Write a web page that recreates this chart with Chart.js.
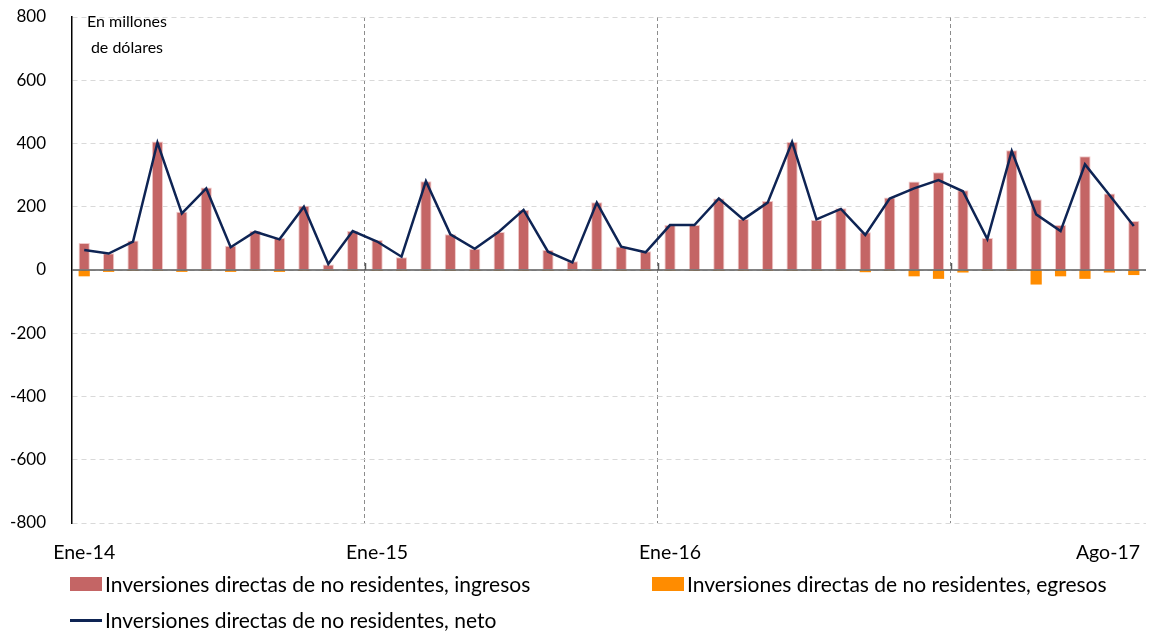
<!DOCTYPE html>
<html>
<head>
<meta charset="utf-8">
<script src="https://cdn.jsdelivr.net/npm/chart.js@4.4.0/dist/chart.umd.min.js"></script>
<style>
  body { margin: 0; background: #fff; }
  #wrap { position: relative; width: 1150px; height: 632px; font-family: Lato, "Liberation Sans", sans-serif; color: #000; }
  #chart { position: absolute; left: 0; top: 0; }
  .note { position: absolute; left: 87px; top: 8px; font-size: 16px; line-height: 26px; text-align: center; }
  .leg { position: absolute; font-size: 21px; white-space: nowrap; line-height: 24px; }
  .leg .box { position: absolute; left: 0; top: 5px; width: 32px; height: 14px; }
  .leg .ln { position: absolute; left: 0; top: 11px; width: 32px; height: 2.5px; }
  .leg span { position: absolute; left: 35px; top: 0; }
</style>
</head>
<body>
<div id="wrap">
  <canvas id="chart" width="1150" height="632"></canvas>
  <div class="note">En millones<br>de dólares</div>
  <div class="leg" style="left:70px; top:572px;"><div class="box" style="background:#C46565"></div><span id="l0"></span></div>
  <div class="leg" style="left:652px; top:572px;"><div class="box" style="background:#FF8C00"></div><span id="l1"></span></div>
  <div class="leg" style="left:70px; top:608px;"><div class="ln" style="background:#0E2454"></div><span id="l2"></span></div>
</div>
<script>
var months = [
  'Ene-14','Feb-14','Mar-14','Abr-14','May-14','Jun-14','Jul-14','Ago-14','Sep-14','Oct-14','Nov-14','Dic-14',
  'Ene-15','Feb-15','Mar-15','Abr-15','May-15','Jun-15','Jul-15','Ago-15','Sep-15','Oct-15','Nov-15','Dic-15',
  'Ene-16','Feb-16','Mar-16','Abr-16','May-16','Jun-16','Jul-16','Ago-16','Sep-16','Oct-16','Nov-16','Dic-16',
  'Ene-17','Feb-17','Mar-17','Abr-17','May-17','Jun-17','Jul-17','Ago-17'
];
var shownLabels = ['Ene-14', 'Ene-15', 'Ene-16', 'Ago-17'];
var yearStarts = ['Ene-15', 'Ene-16', 'Ene-17'];

var ingresos = [
  85, 53, 93, 406, 184, 261, 77, 123, 101, 203, 17, 123,
  95, 40, 281, 113, 67, 120, 190, 63, 28, 214, 74, 59,
  142, 142, 226, 161, 218, 405, 158, 195, 119, 229, 280, 309,
  252, 101, 379, 223, 142, 360, 242, 155
];
var egresos = [
  -20, -6, -3, -3, -6, -3, -6, -3, -6, -3, -3, -3,
  -3, -3, -3, -3, -3, -3, -3, -3, -3, -3, -3, -3,
  -3, -3, -3, -3, -3, -3, -3, -3, -7, -3, -20, -28,
  -8, -3, -3, -46, -20, -28, -8, -16
];
var neto = [
  63, 52, 90, 403, 179, 258, 72, 121, 97, 200, 19, 123,
  90, 42, 281, 113, 67, 122, 190, 58, 24, 213, 74, 56,
  142, 142, 226, 160, 213, 405, 160, 193, 111, 226, 258, 284,
  249, 98, 376, 176, 123, 334, 237, 139
];
var seriesNames = [
  'Inversiones directas de no residentes, ingresos',
  'Inversiones directas de no residentes, egresos',
  'Inversiones directas de no residentes, neto'
];

document.getElementById('l0').textContent = seriesNames[0];
document.getElementById('l1').textContent = seriesNames[1];
document.getElementById('l2').textContent = seriesNames[2];

var fontFam = 'Lato, "Liberation Sans", sans-serif';

// zero line, year ticks and x labels
var axisExtras = {
  id: 'axisExtras',
  afterDatasetsDraw: function(chart) {
    var ctx = chart.ctx, x = chart.scales.x, y = chart.scales.y, area = chart.chartArea;
    var y0 = y.getPixelForValue(0);
    ctx.save();
    ctx.strokeStyle = '#595959';
    ctx.lineWidth = 1.5;
    ctx.beginPath();
    ctx.moveTo(area.left, y0);
    ctx.lineTo(area.right, y0);
    ctx.stroke();
    var half = (x.getPixelForValue(1) - x.getPixelForValue(0)) / 2;
    yearStarts.forEach(function(m) {
      var px = Math.round(x.getPixelForValue(months.indexOf(m)) - half) + 0.5;
      ctx.beginPath();
      ctx.moveTo(px, y0 - 7);
      ctx.lineTo(px, y0);
      ctx.stroke();
    });
    ctx.restore();
  },
  afterDraw: function(chart) {
    var ctx = chart.ctx, x = chart.scales.x, area = chart.chartArea;
    ctx.save();
    ctx.fillStyle = '#000';
    ctx.font = '19.5px ' + fontFam;
    ctx.textBaseline = 'middle';
    ctx.textAlign = 'left';
    shownLabels.forEach(function(m) {
      var px = x.getPixelForValue(months.indexOf(m));
      var w = ctx.measureText(m).width;
      var left = Math.min(px - w / 2, chart.width - 10 - w);
      ctx.fillText(m, left, area.bottom + 30);
    });
    ctx.restore();
  }
};

new Chart(document.getElementById('chart'), {
  type: 'bar',
  data: {
    labels: months,
    datasets: [
      {
        label: seriesNames[2],
        type: 'line',
        data: neto,
        stack: 'neto',
        borderColor: '#0E2454',
        borderWidth: 2.5,
        pointRadius: 0,
        tension: 0,
        order: 0
      },
      {
        label: seriesNames[0],
        data: ingresos,
        stack: 'flujos',
        backgroundColor: '#C46565',
        borderColor: 'rgba(240,200,200,1)',
        borderWidth: 1,
        order: 1
      },
      {
        label: seriesNames[1],
        data: egresos,
        stack: 'flujos',
        backgroundColor: '#FF8C00',
        borderWidth: 0,
        order: 2
      }
    ]
  },
  options: {
    responsive: false,
    animation: false,
    layout: { padding: { left: 0, right: 4, top: 17, bottom: 109 } },
    datasets: { bar: { barPercentage: 0.46, categoryPercentage: 1 } },
    plugins: { legend: { display: false }, tooltip: { enabled: false } },
    scales: {
      x: {
        stacked: true,
        offset: true,
        ticks: { display: false, autoSkip: false },
        grid: {
          offset: true,
          drawTicks: false,
          color: function(c) { return yearStarts.indexOf(months[c.index]) >= 0 ? '#8c8c8c' : 'rgba(0,0,0,0)'; },
          lineWidth: 1
        },
        border: { display: false, dash: [4, 3] }
      },
      y: {
        stacked: true,
        min: -800,
        max: 800,
        ticks: { stepSize: 200, padding: 26, color: '#000', font: { family: fontFam, size: 17 } },
        grid: { drawTicks: false, color: '#d9d9d9', lineWidth: 1 },
        border: { display: true, color: '#000', width: 1.5, dash: [5, 4] },
        afterFit: function(s) { s.width = 72; s.paddingTop = 0; s.paddingBottom = 0; }
      }
    }
  },
  plugins: [axisExtras]
});
</script>
</body>
</html>
